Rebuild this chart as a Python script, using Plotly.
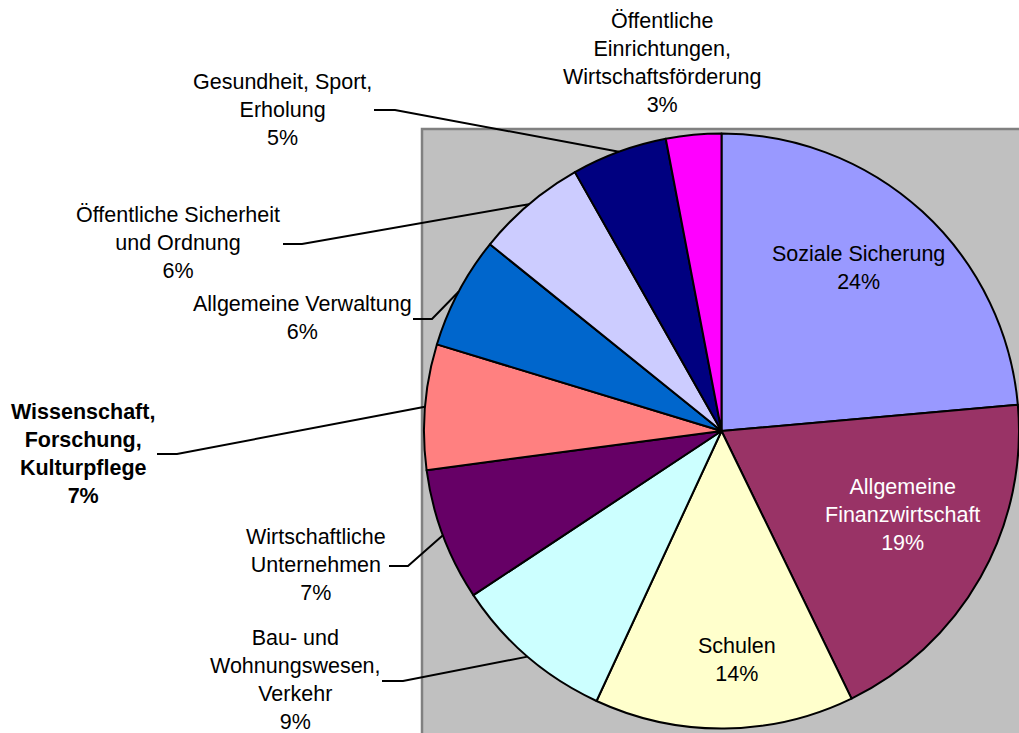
import math
import plotly.graph_objects as go

# ---------------- data ----------------
categories = [
    "Soziale Sicherung",
    "Allgemeine Finanzwirtschaft",
    "Schulen",
    "Bau- und Wohnungswesen, Verkehr",
    "Wirtschaftliche Unternehmen",
    "Wissenschaft, Forschung, Kulturpflege",
    "Allgemeine Verwaltung",
    "Öffentliche Sicherheit und Ordnung",
    "Gesundheit, Sport, Erholung",
    "Öffentliche Einrichtungen, Wirtschaftsförderung",
]
values = [23.6, 19.2, 14.1, 8.8, 7.2, 6.8, 6.1, 6.0, 5.2, 3.0]
label_lines = [
    ["Soziale Sicherung"],
    ["Allgemeine", "Finanzwirtschaft"],
    ["Schulen"],
    ["Bau- und", "Wohnungswesen,", "Verkehr"],
    ["Wirtschaftliche", "Unternehmen"],
    ["Wissenschaft,", "Forschung,", "Kulturpflege"],
    ["Allgemeine Verwaltung"],
    ["Öffentliche Sicherheit", "und Ordnung"],
    ["Gesundheit, Sport,", "Erholung"],
    ["Öffentliche", "Einrichtungen,", "Wirtschaftsförderung"],
]
colors = ["#9999FF", "#993366", "#FFFFCC", "#CCFFFF", "#660066",
          "#FF8080", "#0066CC", "#CCCCFF", "#000080", "#FF00FF"]

# ---------------- layout helpers ----------------
W, H = 1019, 733
FONT = "Arial, Liberation Sans, sans-serif"
FS = 21.5

# label placement (pixel centre of text block)
label_pos = [
    (858, 268), (902, 515), (737, 660), (295, 680), (316, 565),
    (83, 454), (302, 318), (178, 243), (282, 110), (662, 63),
]
label_color = ["black", "white", "black", "black", "black",
               "black", "black", "black", "black", "black"]
label_bold = [False, False, False, False, False, True, False, False, False, False]
# leader start: (x text end, x elbow, y)  in pixels
leaders = {
    3: (382, 403, 681),
    4: (389, 408, 566),
    5: (157, 177, 454),
    6: (413, 432, 319),
    7: (283, 302, 244),
    8: (374, 395, 110),
}


def px_to_paper(x, y):
    return x / W, 1 - y / H


# pie domain (pixels)
pie_left_px = 424
pie_cy_px = 431
r_px = (W - pie_left_px) / 2.0
half_h = r_px + 0.5
dom_x = [pie_left_px / W, 1.0]
dom_y = [max(0.0, (H - pie_cy_px - half_h) / H), min(1.0, (H - pie_cy_px + half_h) / H)]
cx_px = pie_left_px + r_px
cy_px = pie_cy_px

total = sum(values)
pcts = [round(v / total * 100) for v in values]

fig = go.Figure()
fig.add_trace(go.Pie(
    labels=categories,
    values=values,
    sort=False,
    direction="clockwise",
    rotation=0,
    textinfo="none",
    hoverinfo="skip",
    marker=dict(colors=colors, line=dict(color="black", width=2)),
    domain=dict(x=dom_x, y=dom_y),
    showlegend=False,
))

shapes = []
# grey plot area
gx0, gy0 = px_to_paper(422, 129)
shapes.append(dict(type="rect", xref="paper", yref="paper",
                   x0=gx0, y0=gy0, x1=1.02, y1=-0.02,
                   fillcolor="#C0C0C0", line=dict(color="#808080", width=2.5),
                   layer="below"))

# leader lines: end on the slice edge at the mid-angle
cum = 0.0
mids = []
for v in values:
    mids.append((cum + v / 2) / total * 360.0)
    cum += v

for i, (xs, xe, y) in leaders.items():
    a = math.radians(mids[i])
    ex = cx_px + r_px * math.sin(a)
    ey = cy_px - r_px * math.cos(a)
    p0 = px_to_paper(xs, y)
    p1 = px_to_paper(xe, y)
    p2 = px_to_paper(ex, ey)
    shapes.append(dict(type="path", xref="paper", yref="paper",
                       path=f"M {p0[0]},{p0[1]} L {p1[0]},{p1[1]} L {p2[0]},{p2[1]}",
                       line=dict(color="black", width=2)))

annotations = []
for i, lines in enumerate(label_lines):
    txt = "<br>".join(lines + [f"{pcts[i]}%"])
    if label_bold[i]:
        txt = "<b>" + txt + "</b>"
    x, y = px_to_paper(*label_pos[i])
    annotations.append(dict(
        x=x, y=y, xref="paper", yref="paper", text=txt, showarrow=False,
        xanchor="center", yanchor="middle", align="center",
        font=dict(family=FONT, size=FS, color=label_color[i]),
    ))

fig.update_layout(
    width=W, height=H,
    margin=dict(l=0, r=0, t=0, b=0),
    paper_bgcolor="white",
    plot_bgcolor="white",
    shapes=shapes,
    annotations=annotations,
    font=dict(family=FONT, size=FS, color="black"),
    hovermode=False,
)

# remove the page's default body margin so the figure fills the window exactly
fig.write_html(
    "out.html",
    config={"displayModeBar": False, "staticPlot": True},
    post_script="document.body.style.margin='0px';document.body.style.overflow='hidden';",
)
